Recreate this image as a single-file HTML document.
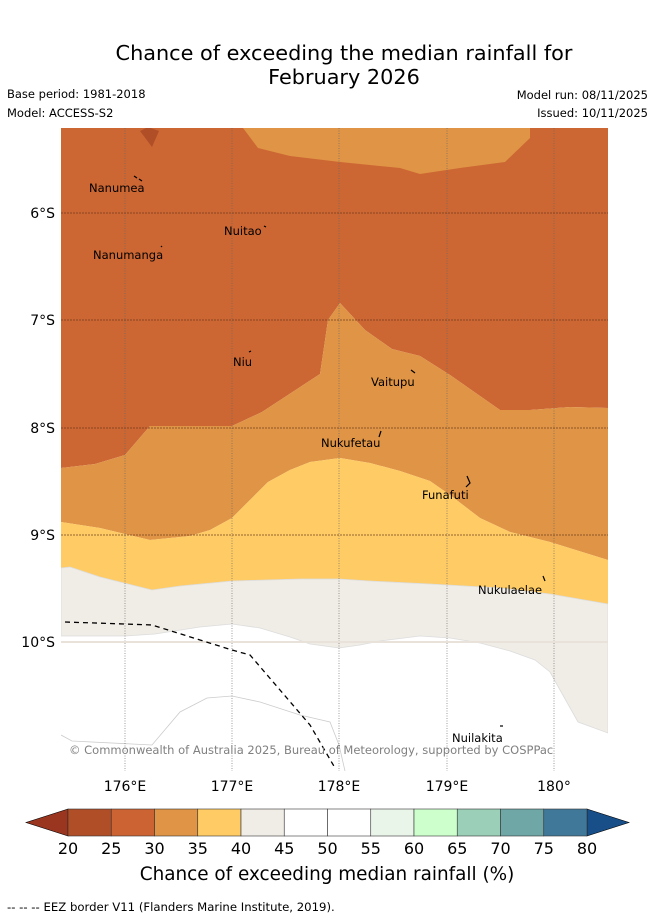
<!DOCTYPE html>
<html><head><meta charset="utf-8"><style>
body{margin:0;background:#fff;font-family:"Liberation Sans","DejaVu Sans",sans-serif}
svg text{font-family:"DejaVu Sans","Liberation Sans",sans-serif}
</style></head><body>
<svg width="655" height="919" viewBox="0 0 655 919" xmlns="http://www.w3.org/2000/svg">
<text x="344" y="60" font-size="20.8" text-anchor="middle">Chance of exceeding the median rainfall for</text>
<text x="344" y="84" font-size="20.8" text-anchor="middle">February 2026</text>
<text x="7" y="98" font-size="11.5">Base period: 1981-2018</text>
<text x="7" y="117" font-size="11.5">Model: ACCESS-S2</text>
<text x="648" y="99" font-size="11.5" text-anchor="end">Model run: 08/11/2025</text>
<text x="648" y="117" font-size="11.5" text-anchor="end">Issued: 10/11/2025</text>

<defs><clipPath id="mc"><rect x="61" y="128" width="547" height="643"/></clipPath></defs>
<g clip-path="url(#mc)">
<rect x="61" y="128" width="547" height="643" fill="#fff"/>
<path fill="#cc6633" d="M61,128 L608,128 L608,408 L570,407 L530,410 L500,410 L450,375 L420,356 L392,349 L365,330 L340,303 L328,320 L320,374 L262,412 L232,426 L150,426 L125,455 L95,464 L61,468 Z"/>
<path fill="#b04e28" d="M140,131 L148,127 L159,131 L152,147 Z"/>
<path fill="#e09445" d="M243,128 L258,148 L290,156 L340,162 L400,168 L420,174 L460,168 L505,162 L530,138 L530,128 Z"/>
<path fill="#e09445" d="M61,468 L95,464 L125,455 L150,426 L232,426 L262,412 L320,374 L328,320 L340,303 L365,330 L392,349 L420,356 L450,375 L500,410 L530,410 L570,407 L608,408 L608,560 L550,542 L510,532 L480,518 L450,495 L430,481 L400,471 L370,463 L340,458 L310,462 L290,470 L268,482 L250,500 L232,518 L210,530 L190,536 L150,540 L100,528 L61,522 Z"/>
<path fill="#fecb65" d="M61,522 L100,528 L150,540 L190,536 L210,530 L232,518 L250,500 L268,482 L290,470 L310,462 L340,458 L370,463 L400,471 L430,481 L450,495 L480,518 L510,532 L550,542 L608,560 L608,604 L550,594 L500,588 L430,584 L370,581 L339,579 L300,579 L232,581 L180,586 L152,590 L100,577 L70,567 L61,568 Z"/>
<path fill="#f0ece6" stroke="#ddd" stroke-width="0.8" d="M61,568 L70,567 L100,577 L152,590 L180,586 L232,581 L300,579 L339,579 L370,581 L430,584 L500,588 L550,594 L608,604 L608,733 L578,722 L560,690 L550,672 L535,660 L510,651 L480,643 L450,638 L420,636 L380,641 L360,645 L339,648 L310,644 L290,637 L260,628 L232,624 L200,627 L155,634 L125,636 L61,636 Z"/>
<path fill="none" stroke="#ccc" stroke-width="0.8" d="M61,735 L72,741 L152,745 L180,712 L207,698 L232,696 L260,702 L300,715 L330,722 L339,745 L345,771"/>
<g>
<g stroke="#666" stroke-width="0.8" stroke-dasharray="1,1.5" opacity="0.8">
<line x1="125" y1="128" x2="125" y2="771"/><line x1="232" y1="128" x2="232" y2="771"/><line x1="339" y1="128" x2="339" y2="771"/><line x1="447" y1="128" x2="447" y2="771"/><line x1="554" y1="128" x2="554" y2="771"/>
</g>
<g stroke="#6b3a1c" stroke-width="1" stroke-dasharray="2,1" opacity="0.7">
<line x1="61" y1="213" x2="608" y2="213"/><line x1="61" y1="320" x2="608" y2="320"/><line x1="61" y1="428" x2="608" y2="428"/><line x1="61" y1="535" x2="608" y2="535"/>
</g>
<line x1="61" y1="642" x2="608" y2="642" stroke="#e8e2da" stroke-width="2"/>
</g>
<path fill="none" stroke="#000" stroke-width="1.3" stroke-dasharray="5,4" d="M65,622 L125,624 L152,625 L200,640 L232,650 L250,655 L280,690 L310,725 L335,768"/>
<g stroke="#000" stroke-width="1.2" fill="none">
<path d="M134,176 L137,178 M139,179 L142,181"/><path d="M264,226 L266,227"/><path d="M161,246 L162,247"/><path d="M249,352 L251,351"/><path d="M411,370 L415,373"/><path d="M381,431 L379,437"/><path d="M467,476 L470,483 L466,487"/><path d="M543,576 L545,581"/><path d="M500,726 L503,726"/>
</g>
<g font-size="11.5">
<text x="89" y="192">Nanumea</text><text x="224" y="235">Nuitao</text><text x="93" y="259">Nanumanga</text><text x="233" y="366">Niu</text><text x="371" y="386">Vaitupu</text><text x="321" y="447">Nukufetau</text><text x="422" y="499">Funafuti</text><text x="478" y="594">Nukulaelae</text><text x="452" y="742">Nuilakita</text>
</g>
<text x="69" y="754" font-size="11.5" fill="#808080">© Commonwealth of Australia 2025, Bureau of Meteorology, supported by COSPPac</text>
</g>
<g font-size="14" text-anchor="end">
<text x="55" y="218">6°S</text><text x="55" y="325">7°S</text><text x="55" y="433">8°S</text><text x="55" y="540">9°S</text><text x="55" y="647">10°S</text>
</g>
<g font-size="14" text-anchor="middle">
<text x="125" y="791">176°E</text><text x="232" y="791">177°E</text><text x="339" y="791">178°E</text><text x="447" y="791">179°E</text><text x="554" y="791">180°</text>
</g>
<g id="cbar"></g>
<text x="327" y="880" font-size="18.4" text-anchor="middle">Chance of exceeding median rainfall (%)</text>
<text x="7" y="911" font-size="11.7">--  --  -- EEZ border V11 (Flanders Marine Institute, 2019).</text>
</svg>
<script>
const cbTicks=[20,25,30,35,40,45,50,55,60,65,70,75,80];
const cbColors=["#b04e28","#cb6332","#e09445","#fecb65","#f0ece6","#ffffff","#ffffff","#eaf5ea","#ccffcc","#9ccfb8","#6fa6a6","#40789a"];
const cbLow="#9a3520", cbHigh="#184f88";
const NS="http://www.w3.org/2000/svg";
const g=document.getElementById('cbar');
const x0=68,x1=587,y0=809,y1=836;
function sx(v){return x0+(v-cbTicks[0])/(cbTicks[cbTicks.length-1]-cbTicks[0])*(x1-x0);}
const lt=document.createElementNS(NS,'polygon');


lt.setAttribute('points',`${x0},${y0} ${x0},${y1} 26,${(y0+y1)/2}`);lt.setAttribute('fill',cbLow);lt.setAttribute('stroke','#000');lt.setAttribute('stroke-width','0.6');g.appendChild(lt);
const rt=document.createElementNS(NS,'polygon');


rt.setAttribute('points',`${x1},${y0} ${x1},${y1} 629,${(y0+y1)/2}`);rt.setAttribute('fill',cbHigh);rt.setAttribute('stroke','#000');rt.setAttribute('stroke-width','0.6');g.appendChild(rt);
cbColors.forEach((c,i)=>{
 const r=document.createElementNS(NS,'rect');
 
 
 r.setAttribute('x',sx(cbTicks[i]));r.setAttribute('y',y0);r.setAttribute('width',sx(cbTicks[i+1])-sx(cbTicks[i]));r.setAttribute('height',y1-y0);
 r.setAttribute('fill',c);r.setAttribute('stroke','#333');r.setAttribute('stroke-width','0.6');g.appendChild(r);
});
cbTicks.forEach(v=>{
 const t=document.createElementNS(NS,'text');
 
 
 t.setAttribute('x',sx(v));t.setAttribute('y',854);t.setAttribute('font-size','16');t.setAttribute('text-anchor','middle');t.textContent=v;g.appendChild(t);
});
</script>
</body></html>
